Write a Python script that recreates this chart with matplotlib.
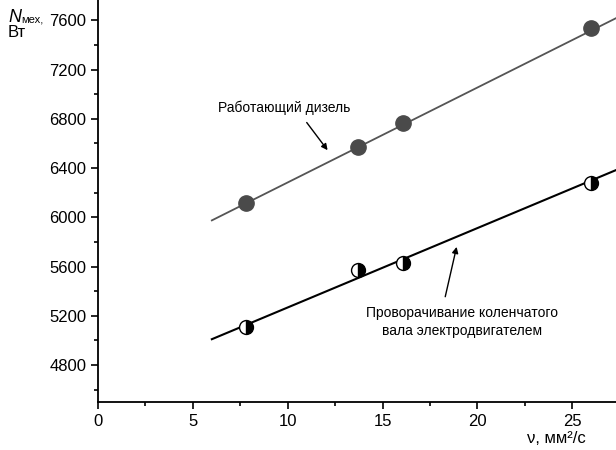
"""Мощность механических потерь в зависимости от вязкости масла."""

import matplotlib
matplotlib.use("Agg")
import matplotlib.pyplot as plt
from matplotlib.ticker import MultipleLocator

# вязкость, мм2/с
visc = [7.8, 13.7, 16.1, 26.0]
# работающий дизель, Вт
n_diesel = [6120, 6575, 6765, 7540]
# проворачивание коленчатого вала электродвигателем, Вт
n_motor = [5110, 5575, 5625, 6280]

# аппроксимирующие прямые (концы)
fit_x = [6.0, 27.4]
fit_diesel = [5975, 7625]
fit_motor = [5010, 6390]

plt.rcParams['font.family'] = ['Liberation Sans', 'DejaVu Sans']


def plot_losses():
    fig = plt.figure(figsize=(6.16, 4.5), dpi=100)
    ax = fig.add_axes([98 / 616, 48 / 450, 1 - 98 / 616, 1 - 48 / 450])

    # линии
    ax.plot(fit_x, fit_diesel, color='#555555', lw=1.3, zorder=2)
    ax.plot(fit_x, fit_motor, color='black', lw=1.5, zorder=2)

    # точки
    ax.plot(visc, n_diesel, 'o', ms=11, color='#4a4a4a', mec='#4a4a4a', zorder=3)
    ax.plot(visc, n_motor, 'o', ms=10, fillstyle='right', color='black',
            markerfacecoloralt='white', mec='black', mew=1.0, zorder=3)

    # подписи
    arrow = dict(arrowstyle='-|>', color='black', lw=1, mutation_scale=9,
                 shrinkA=0, shrinkB=0)
    ax.text(9.8, 6890, 'Работающий дизель', ha='center', va='center',
            fontsize=10)
    ax.annotate('', xy=(12.1, 6545), xytext=(11.0, 6770), arrowprops=arrow)
    ax.text(19.2, 5150, 'Проворачивание коленчатого\nвала электродвигателем',
            ha='center', va='center', fontsize=10, linespacing=1.3)
    ax.annotate('', xy=(18.9, 5760), xytext=(18.3, 5355), arrowprops=arrow)

    ax.set_xlim(0, 27.3)
    ax.set_ylim(4500, 7765)
    ax.xaxis.set_major_locator(MultipleLocator(5))
    ax.xaxis.set_minor_locator(MultipleLocator(2.5))
    ax.yaxis.set_major_locator(MultipleLocator(400))
    ax.yaxis.set_minor_locator(MultipleLocator(200))
    ax.tick_params(which='major', direction='out', length=5, width=1.2,
                   labelsize=12)
    ax.tick_params(which='minor', direction='out', length=3, width=1.2)
    ax.set_yticks(range(4800, 7601, 400))

    for side in ('top', 'right'):
        ax.spines[side].set_visible(False)
    for side in ('left', 'bottom'):
        ax.spines[side].set_linewidth(1.3)

    # подписи осей
    fig.text(8 / 616, 1 - 22 / 450, 'N', fontsize=13, va='baseline',
             ha='left', style='italic')
    fig.text(21 / 616, 1 - 22 / 450, 'мех,', fontsize=8, va='baseline',
             ha='left')
    fig.text(8 / 616, 1 - 37 / 450, 'Вт', fontsize=12, va='baseline',
             ha='left')
    fig.text(586 / 616, 1 - 443 / 450, 'ν, мм²/с', fontsize=12,
             ha='right', va='baseline')

    fig.savefig('out.png', dpi=100)


if __name__ == "__main__":
    plot_losses()
